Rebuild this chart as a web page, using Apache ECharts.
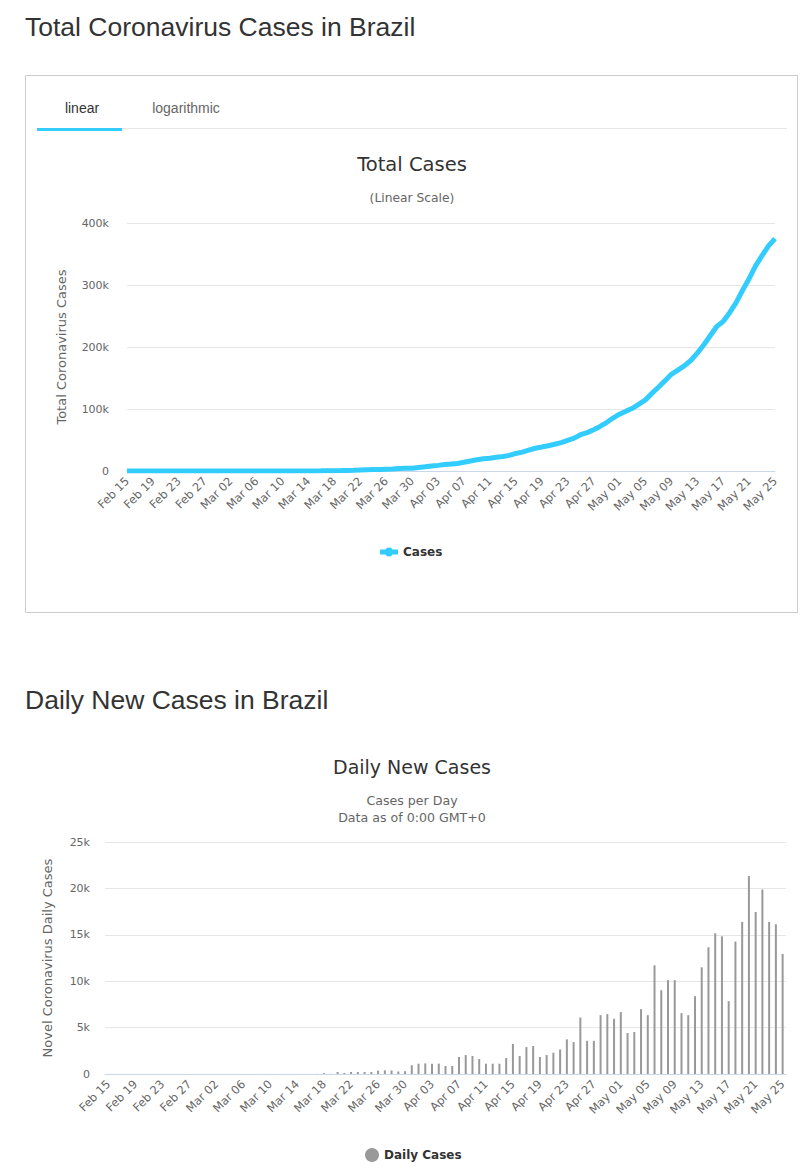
<!DOCTYPE html>
<html>
<head>
<meta charset="utf-8">
<script src="https://cdn.jsdelivr.net/npm/echarts@6/dist/echarts.min.js"></script>
<style>
html,body{margin:0;padding:0;background:#fff;}
#chart{width:808px;height:1172px;}
</style>
</head>
<body>
<div id="chart"></div>
<script>
// ---- Data ----
const dates = [
 'Feb 15','Feb 16','Feb 17','Feb 18','Feb 19','Feb 20','Feb 21','Feb 22','Feb 23','Feb 24','Feb 25','Feb 26','Feb 27','Feb 28','Feb 29',
 'Mar 01','Mar 02','Mar 03','Mar 04','Mar 05','Mar 06','Mar 07','Mar 08','Mar 09','Mar 10','Mar 11','Mar 12','Mar 13','Mar 14','Mar 15','Mar 16',
 'Mar 17','Mar 18','Mar 19','Mar 20','Mar 21','Mar 22','Mar 23','Mar 24','Mar 25','Mar 26','Mar 27','Mar 28','Mar 29','Mar 30','Mar 31',
 'Apr 01','Apr 02','Apr 03','Apr 04','Apr 05','Apr 06','Apr 07','Apr 08','Apr 09','Apr 10','Apr 11','Apr 12','Apr 13','Apr 14','Apr 15',
 'Apr 16','Apr 17','Apr 18','Apr 19','Apr 20','Apr 21','Apr 22','Apr 23','Apr 24','Apr 25','Apr 26','Apr 27','Apr 28','Apr 29','Apr 30',
 'May 01','May 02','May 03','May 04','May 05','May 06','May 07','May 08','May 09','May 10','May 11','May 12','May 13','May 14','May 15',
 'May 16','May 17','May 18','May 19','May 20','May 21','May 22','May 23','May 24','May 25'
];

const totalCases = [
 0,0,0,0,0,0,0,0,0,0,0,1,1,1,2,
 2,2,2,4,8,13,19,25,25,34,52,77,98,121,200,234,
 291,428,621,904,1128,1546,1924,2247,2554,2985,3417,3904,4256,4579,5717,
 6836,8044,9056,10360,11130,12161,14034,16170,18092,19638,20727,22192,23430,25262,28320,
 30425,33682,36658,38654,40743,43079,45757,49492,52995,58509,61888,66501,71886,78162,85380,
 91589,96559,101147,107780,114715,125218,135106,145328,155939,162699,169594,178214,190137,203165,218223,
 233142,241080,255368,271628,291579,310087,330890,347398,363211,374898
];

const dailyCases = [
 0,0,0,0,0,0,0,0,0,0,0,1,0,0,1,
 0,0,0,2,4,5,6,6,0,9,8,10,9,10,12,10,
 14,100,20,215,110,215,215,215,215,360,400,380,270,300,950,
 1110,1140,1100,1120,860,860,1830,2040,1940,1610,1110,1110,1110,1720,3230,
 1940,2900,3010,1830,2040,2290,2650,3730,3440,6090,3580,3580,6340,6450,5950,
 6670,4410,4520,6990,6340,11720,9030,10110,10110,6560,6340,8390,11500,13660,15160,
 14840,7850,14270,16380,21330,17460,19890,16380,16130,12940
];

const totalTicks = [0, 100000, 200000, 300000, 400000];
const dailyTicks = [0, 5000, 10000, 15000, 20000, 25000];

// ---- Styles ----
const chartFont = '"DejaVu Sans", Verdana, sans-serif';
const pageFont = '"Liberation Sans", Arial, sans-serif';
const kFmt = v => v === 0 ? '0' : (v / 1000) + 'k';
const lineIcon = 'path://M0,2 L18,2 L18,7 L0,7 Z M4.5,4.5 A4.5,4.5 0 1 1 13.5,4.5 A4.5,4.5 0 1 1 4.5,4.5 Z';

const chart = echarts.init(document.getElementById('chart'), null, {renderer: 'svg', width: 808, height: 1172});

function xAxisCfg(gridIndex, boundaryGap) {
  return {
    type: 'category', gridIndex: gridIndex, data: dates, boundaryGap: boundaryGap,
    axisLine: {lineStyle: {color: '#ccd6eb', width: 1}},
    axisTick: {show: false},
    axisLabel: {interval: 3, rotate: 45, margin: 8, color: '#666', fontSize: 11.5, fontFamily: chartFont}
  };
}

function centerTitle(text, top, size, color) {
  return {text: text, left: 412, top: top, textAlign: 'center', padding: 0,
    textStyle: {fontSize: size, fontWeight: 'normal', color: color, fontFamily: chartFont}};
}

chart.setOption({
  backgroundColor: '#fff',
  animation: false,
  title: [
    {text: 'Total Coronavirus Cases in Brazil', left: 25, top: 13, padding: 0,
     textStyle: {fontSize: 26.5, fontWeight: 'normal', color: '#333', fontFamily: pageFont}},
    centerTitle('Total Cases', 154, 19.5, '#333'),
    centerTitle('(Linear Scale)', 192, 12.3, '#666'),
    {text: 'Daily New Cases in Brazil', left: 25, top: 686, padding: 0,
     textStyle: {fontSize: 26.5, fontWeight: 'normal', color: '#333', fontFamily: pageFont}},
    centerTitle('Daily New Cases', 757, 19, '#333'),
    centerTitle('Cases per Day', 794, 12.6, '#666'),
    centerTitle('Data as of 0:00 GMT+0', 811, 12.6, '#666')
  ],
  graphic: [
    {type: 'rect', shape: {x: 25.5, y: 75.5, width: 772, height: 537}, style: {fill: 'none', stroke: '#ccc', lineWidth: 1}, silent: true, z: -1},
    {type: 'line', shape: {x1: 37, y1: 128.5, x2: 787, y2: 128.5}, style: {stroke: '#e6e6e6', lineWidth: 1}, silent: true},
    {type: 'rect', shape: {x: 37, y: 128, width: 85, height: 3}, style: {fill: '#33ccff'}, silent: true},
    {type: 'text', x: 82, y: 108, style: {text: 'linear', fill: '#333', fontSize: 14, fontFamily: pageFont, textAlign: 'center', textVerticalAlign: 'middle'}},
    {type: 'text', x: 186, y: 108, style: {text: 'logarithmic', fill: '#666', fontSize: 14, fontFamily: pageFont, textAlign: 'center', textVerticalAlign: 'middle'}}
  ],
  legend: [
    {data: [{name: 'Cases', icon: lineIcon}], left: 380, top: 546, padding: 0, itemWidth: 18, itemHeight: 9,
     textStyle: {fontSize: 12, fontWeight: 'bold', color: '#333', fontFamily: chartFont}},
    {data: ['Daily Cases'], left: 365, top: 1148, padding: 0, icon: 'circle', itemWidth: 14, itemHeight: 14,
     textStyle: {fontSize: 12, fontWeight: 'bold', color: '#333', fontFamily: chartFont}}
  ],
  grid: [
    {left: 127, right: 33, top: 223, height: 248},
    {left: 105, right: 22, top: 842, height: 232}
  ],
  xAxis: [xAxisCfg(0, false), xAxisCfg(1, true)],
  yAxis: [
    {type: 'value', gridIndex: 0, min: totalTicks[0], max: totalTicks[totalTicks.length - 1], interval: totalTicks[1] - totalTicks[0],
     name: 'Total Coronavirus Cases', nameLocation: 'middle', nameGap: 59,
     nameTextStyle: {fontSize: 13, color: '#666', fontFamily: chartFont},
     axisLine: {show: false}, axisTick: {show: false},
     axisLabel: {formatter: kFmt, margin: 18, color: '#666', fontSize: 11, fontFamily: chartFont},
     splitLine: {lineStyle: {color: '#e6e6e6'}}},
    {type: 'value', gridIndex: 1, min: dailyTicks[0], max: dailyTicks[dailyTicks.length - 1], interval: dailyTicks[1] - dailyTicks[0],
     name: 'Novel Coronavirus Daily Cases', nameLocation: 'middle', nameGap: 51,
     nameTextStyle: {fontSize: 13, color: '#666', fontFamily: chartFont},
     axisLine: {show: false}, axisTick: {show: false},
     axisLabel: {formatter: kFmt, margin: 15, color: '#666', fontSize: 11, fontFamily: chartFont},
     splitLine: {lineStyle: {color: '#e6e6e6'}}}
  ],
  series: [
    {name: 'Cases', type: 'line', xAxisIndex: 0, yAxisIndex: 0, data: totalCases,
     symbol: 'circle', symbolSize: 8, showSymbol: false,
     lineStyle: {width: 5, color: '#33ccff'}, itemStyle: {color: '#33ccff'}},
    {name: 'Daily Cases', type: 'bar', xAxisIndex: 1, yAxisIndex: 1, data: dailyCases,
     barWidth: 2, itemStyle: {color: '#999999'}}
  ]
});
</script>
</body>
</html>
